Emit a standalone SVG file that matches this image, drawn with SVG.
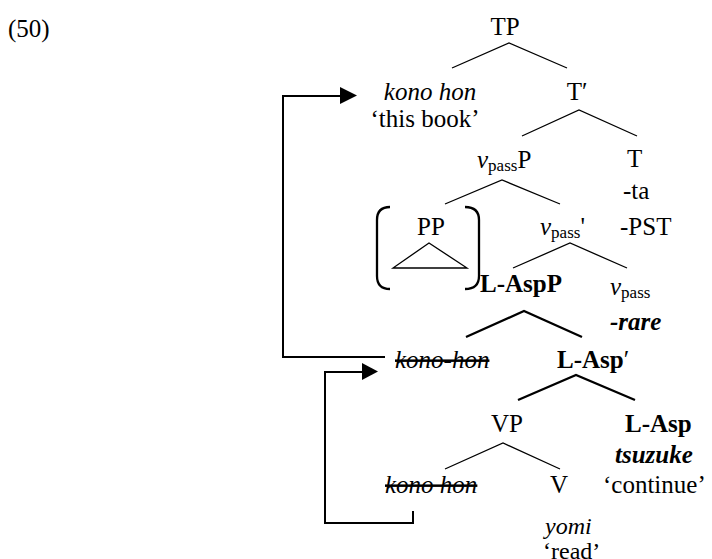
<svg xmlns="http://www.w3.org/2000/svg" width="712" height="559" viewBox="0 0 712 559">
<style>
text{font-family:"Liberation Serif","Times New Roman",serif;font-size:25px;fill:#000}
.i{font-style:italic}
.b{font-weight:bold}
.s{font-size:17px}
.g{font-size:24px}
.st{text-decoration:line-through}
.br{fill:none;stroke:#000;stroke-width:1.3}
.bk{fill:none;stroke:#000;stroke-width:2.3}
.ar{fill:none;stroke:#000;stroke-width:2}
</style>
<rect width="712" height="559" fill="#fff"/>
<text x="8" y="37">(50)</text>
<g id="TP"><text x="505" y="35" text-anchor="middle">TP</text></g>
<g id="konohon-top"><text class="i" x="430" y="100" text-anchor="middle">kono hon</text><text x="425" y="127" text-anchor="middle">‘this book’</text></g>
<g id="Tbar"><text x="577" y="100" text-anchor="middle">T′</text></g>
<g id="vpassP"><text x="477" y="168"><tspan class="i">v</tspan><tspan class="s" dy="3">pass</tspan><tspan dy="-3">P</tspan></text></g>
<g id="T"><text x="627" y="167">T</text><text x="623" y="199">-ta</text></g>
<g id="PP"><text x="431" y="235" text-anchor="middle">PP</text><polygon points="429,243 393,268 467,268" class="br"/><path class="bk" d="M390,207 Q377,207 377,220 V276 Q377,289 390,289 M465,207 Q479,207 479,220 V276 Q479,289 465,289"/></g>
<g id="vpassbar"><text x="540" y="235"><tspan class="i">v</tspan><tspan class="s" dy="3">pass</tspan><tspan dy="-3">'</tspan></text></g>
<g id="PST"><text x="620" y="235">-PST</text></g>
<g id="LAspP"><text class="b" x="480" y="292">L-AspP</text></g>
<g id="vpass"><text x="610" y="295"><tspan class="i">v</tspan><tspan class="s" dy="3">pass</tspan></text><text class="b i" x="610" y="330">-rare</text></g>
<g id="konohon-mid"><text class="i st" x="395" y="368">kono-hon</text></g>
<g id="LAspbar"><text class="b" x="557" y="368">L-Asp<tspan font-weight="normal">′</tspan></text></g>
<g id="VP"><text x="507" y="432" text-anchor="middle">VP</text></g>
<g id="LAsp"><text class="b" x="625" y="432">L-Asp</text><text class="b i" x="615" y="463">tsuzuke</text><text x="603" y="493">‘continue’</text></g>
<g id="konohon-low"><text class="i st" x="385" y="493">kono hon</text></g>
<g id="V"><text x="550" y="493">V</text><text class="i g" x="545" y="534">yomi</text><text class="g" x="543" y="559">‘read’</text></g>
<g id="connectors">
<path class="br" d="M452,68 L509,43 L567,68 M522,136 L579,110 L637,136 M445,204 L502,180 L560,204 M513,268 L570,243 L627,268 M445,469 L503,443 L560,469"/>
<path class="bk" d="M466,337 L524,311 L582,337 M518,400 L576,375 L635,400"/>
<path class="ar" d="M385,357 H283 V96 H342"/>
<polygon points="340,87 357,95.5 340,104"/>
<path class="ar" d="M413,511 V523 H325 V372 H364"/>
<polygon points="362,363 378,371.5 362,380"/>
</g>
</svg>
